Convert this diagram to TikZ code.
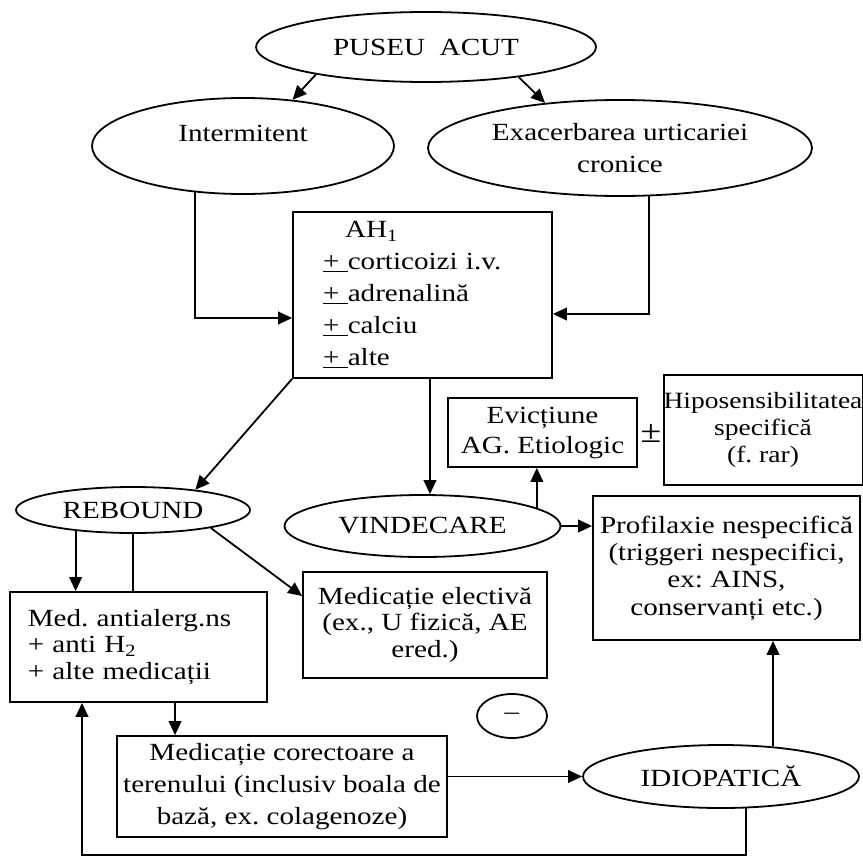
\documentclass[tikz,border=0pt]{standalone}
\usepackage{fontspec}
\setmainfont[FakeStretch=1.18]{Liberation Serif}
\usetikzlibrary{shapes.geometric,arrows.meta}
% plus sign with a rule under it, as used for "optional" items
\newcommand\plusline{\underline{+\ }}
\frenchspacing
\begin{document}
\begin{tikzpicture}[x=0.75pt,y=-0.75pt,
  every node/.style={font=\fontsize{18.5}{21}\selectfont},
  sz/.style n args={2}{minimum width={#1*0.75pt},minimum height={#2*0.75pt}},
  oval/.style={ellipse,draw,line width=1.35pt,inner sep=0pt},
  box/.style={rectangle,draw,line width=1.35pt,inner sep=0pt,align=center},
  conn/.style={line width=1.35pt},
  arr/.style={conn,-{Triangle[length=10.5pt,width=9.5pt]}}]

\fill[white] (0,0) rectangle (863,860);
\useasboundingbox (0,0) rectangle (863,860);

% --- ovals ---
\node[oval,sz={340}{70}] (puseu) at (426,47) {PUSEU\ \ ACUT};
\node[oval,sz={302}{96}] (inter) at (243,146) {};
\node (intertxt) at ([yshift=9.75pt]inter.center) {Intermitent};
\node[oval,sz={384}{96},align=center,font=\fontsize{18.5}{24}\selectfont] (exac) at (620,148)
  {Exacerbarea urticariei\\cronice};
\node[oval,sz={234}{46}] (rebound) at (133,510) {REBOUND};
\node[oval,sz={276}{62}] (vind) at (422.5,526) {VINDECARE};
\node[oval,sz={70}{44}] (minus) at (512,716) {–};
\node[oval,sz={276}{63}] (idio) at (721,776.5) {IDIOPATICĂ};

% --- boxes ---
\node[box,sz={259}{166},text width=149pt,align=left,font=\fontsize{18.5}{24}\selectfont] (ah) at (422.5,295)
  {\hspace*{16.5pt}AH\textsubscript{1}\\
   \plusline corticoizi i.v.\\
   \plusline adrenalină\\
   \plusline calciu\\
   \plusline alte};
\node[box,sz={189}{69},font=\fontsize{18.5}{22.5}\selectfont] (evic) at (542.5,432.5)
  {Evicțiune\\AG. Etiologic};
\node[font=\fontsize{24}{24}\selectfont] (pm) at (651,433) {±};
\node[box,sz={198}{110},font=\fontsize{17.5}{20}\selectfont] (hipo) at (763,430)
  {Hiposensibilitatea\\specifică\\(f. rar)};
\node[box,sz={267}{144},font=\fontsize{18.5}{20.5}\selectfont] (prof) at (726.5,568)
  {Profilaxie nespecifică\\(triggeri nespecifici,\\ex: AINS,\\conservanți etc.)};
\node[box,sz={244}{106},font=\fontsize{18.5}{20}\selectfont] (elect) at (425,625)
  {Medicație electivă\\(ex., U fizică, AE\\ered.)};
\node[box,sz={257}{110},text width=166pt,align=left,font=\fontsize{18.5}{20}\selectfont] (antial) at (138.5,647)
  {Med. antialerg.ns\\+ anti H\textsubscript{2}\\+ alte medicații};
\node[box,sz={330}{101},font=\fontsize{18.5}{24}\selectfont] (corect) at (282,786.5)
  {Medicație corectoare a\\terenului (inclusiv boala de\\bază, ex. colagenoze)};

% --- connectors ---
\draw[arr] (puseu.194) -- (inter.43);
\draw[arr] (puseu.342) -- (exac.149);
\draw[arr] (inter.224) |- ([yshift=-17.25pt]ah.west);
\draw[arr] (exac.301) |- ([yshift=-14.25pt]ah.east);
\draw[arr] (ah.south west) -- (rebound.18);
\coordinate (ahout) at ([xshift=5.6pt]ah.south);
\draw[arr] (ahout) -- (ahout |- vind.north);
\draw[arr] (vind.9) -- (vind.9 |- evic.south);
\draw[arr] (vind.east) -- (vind.east -| prof.west);
\draw[arr] (rebound.200) -- (rebound.200 |- antial.north);
\draw[conn] (rebound.south) -- (rebound.south |- antial.north);
\draw[arr] (rebound.347) -- ([yshift=21.75pt]elect.west);
\coordinate (medout) at ([xshift=27.4pt]antial.south);
\draw[arr] (medout) -- (medout |- corect.north);
\draw[arr] (corect.east |- idio.west) -- (idio.west);
\draw[arr] (idio.30) -- (idio.30 |- prof.south);
\coordinate (loopcorner) at (82,855);
\draw[arr] (idio.308) |- (loopcorner) -- (loopcorner |- antial.south);
\end{tikzpicture}
\end{document}
